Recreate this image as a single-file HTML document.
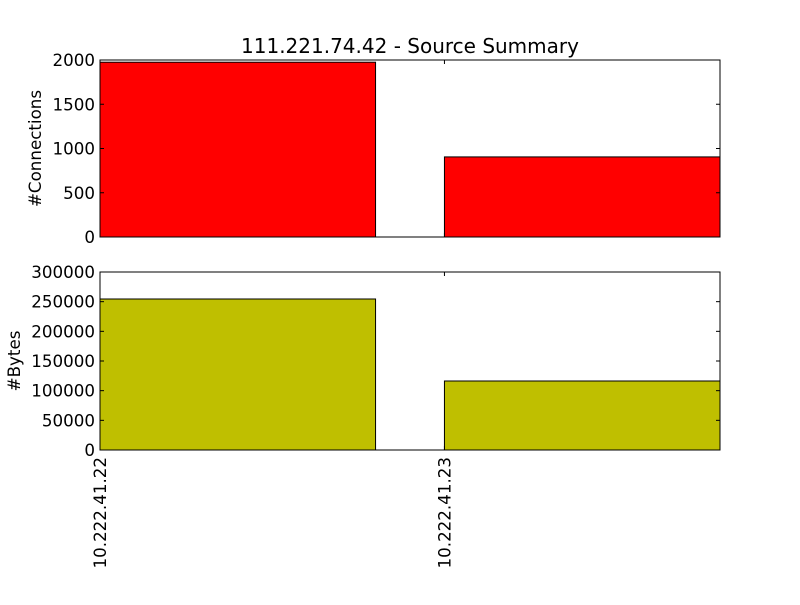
<!DOCTYPE html>
<html><head><meta charset="utf-8"><style>
body{margin:0;background:#fff}
svg text{font-family:"DejaVu Sans","Liberation Sans",sans-serif;fill:#000}
</style></head><body>
<svg id="chart" width="800" height="600"></svg>
<script>
const categories = ["10.222.41.22", "10.222.41.23"];
const connections = [1975, 905];
const bytesValues = [254500, 116300];
const connTicks = [0, 500, 1000, 1500, 2000];
const bytesTicks = [0, 50000, 100000, 150000, 200000, 250000, 300000];

const NS = "http://www.w3.org/2000/svg";
const svg = document.getElementById("chart");
function mk(tag, attrs, parent) {
  const e = document.createElementNS(NS, tag);
  for (const k in attrs) e.setAttribute(k, attrs[k]);
  (parent || svg).appendChild(e);
  return e;
}
const X0 = 100, X1 = 720, XMAX = 1.8;
const xs = v => X0 + v / XMAX * (X1 - X0);
const FS = 16.7;

function panel(top, bottom, ymax, vals, ticks, color, ylabel, name) {
  const g = mk("g", {});
  
  
  const ys = v => bottom - v / ymax * (bottom - top);
  vals.forEach((v, i) => {
    const r = mk("rect", {x: xs(i), y: ys(v), width: xs(i + 0.8) - xs(i), height: bottom - ys(v), fill: color, stroke: "#000", "stroke-width": 1}, g);
    
    
  });
  mk("rect", {x: X0, y: top, width: X1 - X0, height: bottom - top, fill: "none", stroke: "#000", "stroke-width": 1}, g);
  ticks.forEach(t => {
    const y = ys(t);
    mk("line", {x1: X0, x2: X0 + 4, y1: y, y2: y, stroke: "#000"}, g);
    mk("line", {x1: X1, x2: X1 - 4, y1: y, y2: y, stroke: "#000"}, g);
    const tx = mk("text", {x: X0 - 5, y: y + 6, "text-anchor": "end", "font-size": FS}, g);
    tx.textContent = t;
    
    
  });
  categories.forEach((c, i) => {
    mk("line", {x1: xs(i), x2: xs(i), y1: bottom, y2: bottom - 4, stroke: "#000"}, g);
    mk("line", {x1: xs(i), x2: xs(i), y1: top, y2: top + 4, stroke: "#000"}, g);
  });
  const yl = mk("text", {x: 0, y: 0, "text-anchor": "middle", "font-size": FS, transform: `translate(${name === 'bytes' ? 20 : 41},${(top + bottom) / 2}) rotate(-90)`}, g);
  yl.textContent = ylabel;
  
  
  return ys;
}
panel(60, 237, 2000, connections, connTicks, "#ff0000", "#Connections", "connections");
panel(272, 450, 300000, bytesValues, bytesTicks, "#bfbf00", "#Bytes", "bytes");

categories.forEach((c, i) => {
  const t = mk("text", {x: 0, y: 0, "text-anchor": "end", "font-size": FS, transform: `translate(${xs(i) + 6},457) rotate(-90)`});
  t.textContent = c;
  
  
});
const title = mk("text", {x: 410, y: 53, "text-anchor": "middle", "font-size": 20});
title.textContent = "111.221.74.42 - Source Summary";


</script>
</body></html>
